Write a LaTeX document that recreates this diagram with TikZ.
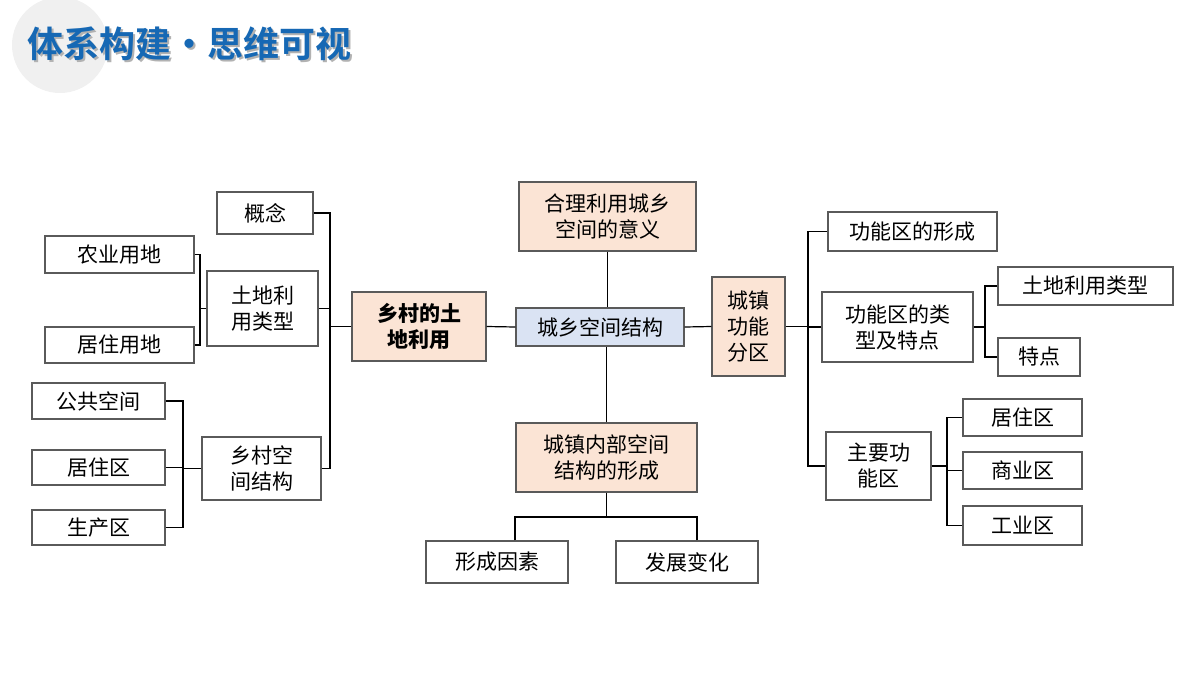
\documentclass[tikz,border=0pt]{standalone}
\usepackage{fontspec}
\setmainfont{Noto Sans CJK SC}
\newfontfamily\titlefont{Noto Sans CJK SC Bold}
\definecolor{hubfill}{RGB}{251,228,213}
\definecolor{corefill}{RGB}{218,227,243}
\definecolor{titleblue}{RGB}{22,104,180}
\definecolor{edge}{RGB}{90,90,90}
\tikzset{
  box/.style={draw=edge, line width=0.6pt, fill=white, inner sep=0pt, align=center, font=\fontsize{10.5pt}{13pt}\selectfont},
  hub/.style={box, fill=hubfill},
  core/.style={box, fill=corefill},
  link/.style={line width=0.6pt, black},
}
\begin{document}
\begin{tikzpicture}[x=0.5pt, y=-0.5pt]
      \useasboundingbox (0,0) rectangle (1200,675);
      % title
      \fill [gray!12] (60,45) circle (48);
      \node [anchor=west, text=gray!60, font=\titlefont\fontsize{18pt}{20pt}\selectfont] at (22,46) {体系构建·思维可视};
      \node [anchor=west, text=titleblue, font=\titlefont\fontsize{18pt}{20pt}\selectfont] (title) at (20,44) {体系构建·思维可视};
      
      % centre
      \node [core, minimum width=84pt, minimum height=19pt] (core) at (600,327) {城乡空间结构};
      \node [hub, minimum width=88.5pt, minimum height=34.5pt] (yy) at (607.5,216.5) {合理利用城乡\\空间的意义};
      \node [hub, minimum width=90.5pt, minimum height=34.5pt] (nb) at (606.5,457.5) {城镇内部空间\\结构的形成};
      \node [box, minimum width=71pt, minimum height=21pt] (xy) at (497,562) {形成因素};
      \node [box, minimum width=71pt, minimum height=21pt] (fz) at (687,562) {发展变化};
      
      % left
      \node [hub, minimum width=67pt, minimum height=34.5pt, font=\bfseries\fontsize{10.5pt}{13pt}\selectfont] (xc) at (419,326.5) {乡村的土\\地利用};
      \node [box, minimum width=48pt, minimum height=21pt] (gn) at (265,213) {概念};
      \node [box, minimum width=55.5pt, minimum height=37.5pt] (tl) at (262.5,308.5) {土地利\\用类型};
      \node [box, minimum width=59.5pt, minimum height=31.5pt] (xk) at (261.5,468.5) {乡村空\\间结构};
      \node [box, minimum width=74.5pt, minimum height=18.5pt] (ny) at (119.5,254.5) {农业用地};
      \node [box, minimum width=74.5pt, minimum height=18pt] (jz) at (119.5,345) {居住用地};
      \node [box, minimum width=66.5pt, minimum height=18pt] (gg) at (98.5,401) {公共空间};
      \node [box, minimum width=66.5pt, minimum height=17.5pt] (jzq) at (98.5,467.5) {居住区};
      \node [box, minimum width=66.5pt, minimum height=17.5pt] (sc) at (98.5,527.5) {生产区};
      
      % right
      \node [hub, minimum width=36.5pt, minimum height=49.5pt] (fq) at (748.5,326.5) {城镇\\功能\\分区};
      \node [box, minimum width=84.5pt, minimum height=19.5pt] (xch) at (912.5,231.5) {功能区的形成};
      \node [box, minimum width=75.5pt, minimum height=35pt] (lx) at (897.5,327) {功能区的类\\型及特点};
      \node [box, minimum width=52.5pt, minimum height=34pt] (zy) at (878.5,466) {主要功\\能区};
      \node [box, minimum width=87.5pt, minimum height=19pt] (tlr) at (1085.5,286) {土地利用类型};
      \node [box, minimum width=41pt, minimum height=19pt] (td) at (1039,357) {特点};
      \node [box, minimum width=59.5pt, minimum height=18.5pt] (jzr) at (1022.5,417.5) {居住区};
      \node [box, minimum width=59.5pt, minimum height=18.5pt] (sy) at (1022.5,470.5) {商业区};
      \node [box, minimum width=59.5pt, minimum height=19.5pt] (gy) at (1022.5,525.5) {工业区};
      
      % connectors
      \coordinate (lb) at (330,326.5);
      \coordinate (b1) at (200,308.5);
      \coordinate (b2) at (183,468.5);
      \coordinate (b3) at (808,326.5);
      \coordinate (b4) at (985,327);
      \coordinate (b5) at (947,466);
      \coordinate (b6) at (606.5,517);
      \draw [link] (xc.east) -- (core.west);
      \draw [link] (core.east) -- (fq.west);
      \draw [link] (yy.south) -- (yy.south |- core.north);
      \draw [link] (nb.north) -- (nb.north |- core.south);
      \draw [link] (xc.west) -- (lb);
      \draw [link] (gn.east) -| (lb);
      \draw [link] (tl.east) -| (lb);
      \draw [link] (xk.east) -| (lb);
      \draw [link] (tl.west) -- (b1);
      \draw [link] (ny.east) -| (b1);
      \draw [link] (jz.east) -| (b1);
      \draw [link] (xk.west) -- (b2);
      \draw [link] (gg.east) -| (b2);
      \draw [link] (jzq.east) -| (b2);
      \draw [link] (sc.east) -| (b2);
      \draw [link] (fq.east) -- (b3);
      \draw [link] (xch.west) -| (b3);
      \draw [link] (lx.west) -| (b3);
      \draw [link] (zy.west) -| (b3);
      \draw [link] (lx.east) -- (b4);
      \draw [link] (tlr.west) -| (b4);
      \draw [link] (td.west) -| (b4);
      \draw [link] (zy.east) -- (b5);
      \draw [link] (jzr.west) -| (b5);
      \draw [link] (sy.west) -| (b5);
      \draw [link] (gy.west) -| (b5);
      \draw [link] (nb.south) -- (b6);
      \draw [link] ([xshift=9pt]xy.north) |- (b6);
      \draw [link] ([xshift=5pt]fz.north) |- (b6);
\end{tikzpicture}
\end{document}
